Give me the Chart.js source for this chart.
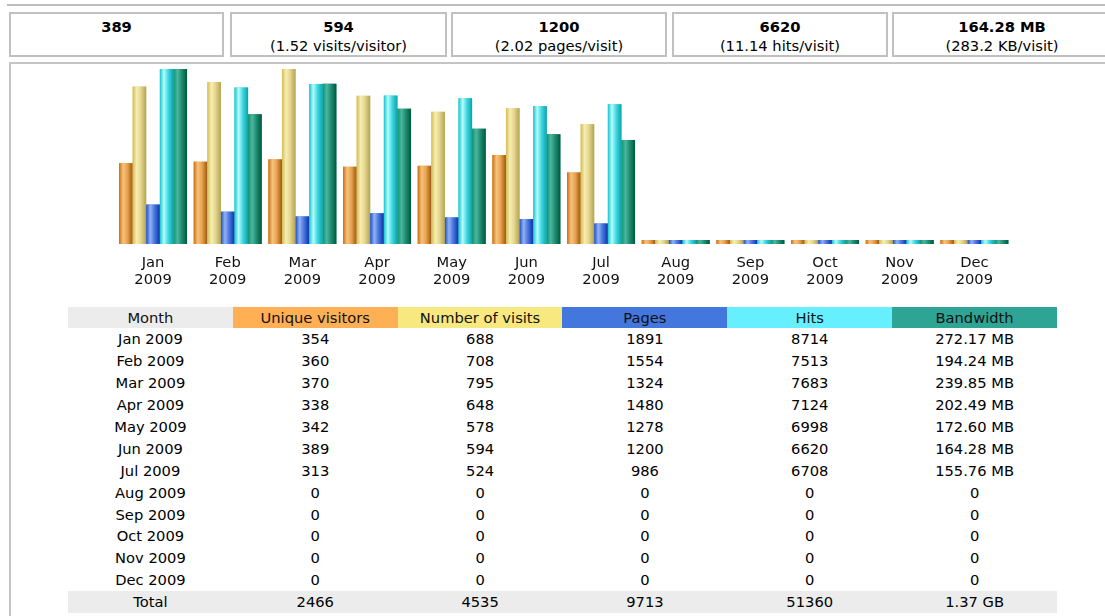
<!DOCTYPE html>
<html>
<head>
<meta charset="utf-8">
<script src="https://cdn.jsdelivr.net/npm/chart.js@4/dist/chart.umd.min.js"></script>
<style>
  body { margin: 0; background: #fff; font-family: "DejaVu Sans", Verdana, sans-serif; font-size: 14.7px; color: #000; width: 1105px; height: 616px; overflow: hidden; position: relative; }
  .topline { position: absolute; left: 7px; top: 4px; width: 1100px; height: 2px; background: #bcbcc4; }
  .sum { position: absolute; top: 12px; border: 2px solid #c0c0c0; text-align: center; box-sizing: border-box; height: 45px; }
  .sum b { display: block; margin-top: 4px; line-height: 18px; }
  .sum span { display: block; line-height: 19px; }
  .main { position: absolute; left: 9px; top: 62px; width: 1200px; height: 700px; border-top: 2px solid #c4c4c4; border-left: 2px solid #c4c4c4; }
  #wrap { position: absolute; left: 0; top: 0; width: 1105px; height: 300px; }
  table { position: absolute; left: 68px; top: 307px; border-collapse: collapse; width: 989px; table-layout: fixed; }
  td, th { text-align: center; font-weight: normal; height: 21.9px; padding: 0; line-height: 17px; }
  th { height: 21px; color: #111; }
</style>
</head>
<body>
<div class="topline"></div>
<div class="sum" style="left:9px;width:215px;"><b>389</b></div>
<div class="sum" style="left:230px;width:217px;"><b>594</b><span>(1.52 visits/visitor)</span></div>
<div class="sum" style="left:451px;width:216px;"><b>1200</b><span>(2.02 pages/visit)</span></div>
<div class="sum" style="left:672px;width:216px;"><b>6620</b><span>(11.14 hits/visit)</span></div>
<div class="sum" style="left:892px;width:220px;"><b>164.28 MB</b><span>(283.2 KB/visit)</span></div>
<div class="main"></div>
<div id="wrap"><canvas id="chart"></canvas></div>
<table id="tbl"></table>
<script>
const months = ['Jan', 'Feb', 'Mar', 'Apr', 'May', 'Jun', 'Jul', 'Aug', 'Sep', 'Oct', 'Nov', 'Dec'];
const year = '2009';
const visitors = [354, 360, 370, 338, 342, 389, 313, 0, 0, 0, 0, 0];
const visits = [688, 708, 795, 648, 578, 594, 524, 0, 0, 0, 0, 0];
const pages = [1891, 1554, 1324, 1480, 1278, 1200, 986, 0, 0, 0, 0, 0];
const hits = [8714, 7513, 7683, 7124, 6998, 6620, 6708, 0, 0, 0, 0, 0];
const bandwidthMB = [272.17, 194.24, 239.85, 202.49, 172.60, 164.28, 155.76, 0, 0, 0, 0, 0];

// each pair of series shares its own hidden scale, tops get cut at the chart edge
const visitScaleMax = 765;
const hitScaleMax = 8400;
const bwScaleMax = 262;

// left edge -> highlight -> right edge, gives the round bar look
const shades = {
  visitors: ['#c9700f', '#f6c27e', '#e9a451', '#9c5a0c'],
  visits: ['#d4bc52', '#f6eeb4', '#e4d68e', '#b3a251'],
  pages: ['#1f4fc8', '#93b2f2', '#4a78e0', '#0b35a6'],
  hits: ['#12c5cf', '#b8fbfb', '#43d9e2', '#0aa2ac'],
  bandwidth: ['#0f9470', '#4cb6a0', '#1f8e72', '#00583d']
};

function makeSet(label, data, axis, key) {
  return {
    label: label,
    data: data,
    yAxisID: axis,
    backgroundColor: shades[key][2],
    shade: shades[key],
    borderWidth: 0,
    minBarLength: 4,
    barPercentage: 1,
    categoryPercentage: 0.911
  };
}

const roundBars = {
  id: 'roundBars',
  afterDatasetsDraw(chart) {
    const ctx = chart.ctx;
    const a = chart.chartArea;
    ctx.save();
    ctx.beginPath();
    ctx.rect(a.left, a.top, a.right - a.left, a.bottom - a.top);
    ctx.clip();
    chart.data.datasets.forEach((ds, i) => {
      chart.getDatasetMeta(i).data.forEach(el => {
        const p = el.getProps(['x', 'y', 'base', 'width'], true);
        const l = p.x - p.width / 2;
        const g = ctx.createLinearGradient(l, 0, l + p.width, 0);
        g.addColorStop(0, ds.shade[0]);
        g.addColorStop(0.3, ds.shade[1]);
        g.addColorStop(0.6, ds.shade[2]);
        g.addColorStop(1, ds.shade[3]);
        ctx.fillStyle = g;
        ctx.fillRect(l, Math.min(p.y, p.base), p.width, Math.abs(p.base - p.y));
      });
    });
    ctx.restore();
  }
};

new Chart(document.getElementById('chart'), {
  type: 'bar',
  data: {
    labels: months.map(m => [m, year]),
    datasets: [
      makeSet('Unique visitors', visitors, 'yv', 'visitors'),
      makeSet('Number of visits', visits, 'yv', 'visits'),
      makeSet('Pages', pages, 'yp', 'pages'),
      makeSet('Hits', hits, 'yp', 'hits'),
      makeSet('Bandwidth', bandwidthMB, 'yb', 'bandwidth')
    ]
  },
  options: {
    responsive: true,
    maintainAspectRatio: false,
    animation: false,
    layout: { padding: { left: 115.7, right: 93.3, top: 69, bottom: 0 } },
    plugins: { legend: { display: false }, tooltip: { enabled: false } },
    scales: {
      x: {
        grid: { display: false, drawTicks: false },
        border: { display: false },
        ticks: { color: '#111', padding: 11, font: { family: 'DejaVu Sans', size: 14.7, lineHeight: 17 / 14.7 }, maxRotation: 0, autoSkip: false }
      },
      yv: { display: false, min: 0, max: visitScaleMax },
      yp: { display: false, min: 0, max: hitScaleMax },
      yb: { display: false, min: 0, max: bwScaleMax }
    }
  },
  plugins: [roundBars]
});

// table below the chart, same arrays
function fmtBw(v) { return v === 0 ? '0' : v.toFixed(2) + ' MB'; }
const sum = arr => arr.reduce((s, v) => s + v, 0);
let html = '<tr><th style="background:#ececec">Month</th>' +
  '<th style="background:#ffb055">Unique visitors</th>' +
  '<th style="background:#f8e880">Number of visits</th>' +
  '<th style="background:#4477dd">Pages</th>' +
  '<th style="background:#66f0ff">Hits</th>' +
  '<th style="background:#2ea495">Bandwidth</th></tr>';
months.forEach((m, i) => {
  html += '<tr><td>' + m + ' ' + year + '</td><td>' + visitors[i] + '</td><td>' + visits[i] +
    '</td><td>' + pages[i] + '</td><td>' + hits[i] + '</td><td>' + fmtBw(bandwidthMB[i]) + '</td></tr>';
});
html += '<tr style="background:#ececec"><td>Total</td><td>' + sum(visitors) + '</td><td>' + sum(visits) +
  '</td><td>' + sum(pages) + '</td><td>' + sum(hits) + '</td><td>' + (sum(bandwidthMB) / 1024).toFixed(2) + ' GB</td></tr>';
document.getElementById('tbl').innerHTML = html;
</script>
</body>
</html>
